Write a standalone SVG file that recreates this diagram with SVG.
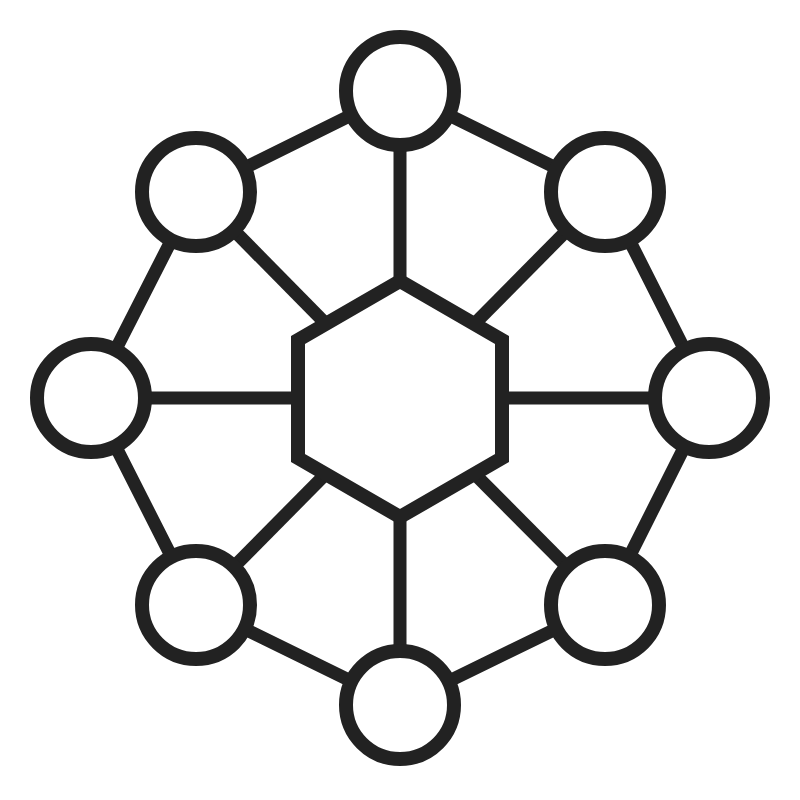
<svg xmlns="http://www.w3.org/2000/svg" width="800" height="800" viewBox="0 0 800 800">
<style>
.e{stroke:#222;stroke-width:13;fill:none;stroke-linecap:butt}
.n{stroke:#222;stroke-width:14;fill:#fff}
</style>
<rect width="800" height="800" fill="#fff"/>
<g id="connectors">
<path class="e" d="M400,91 L605,192 L709,398 L605,605 L400,705 L196,605 L91,398 L196,192 Z"/>
<line class="e" x1="400" y1="91" x2="400" y2="399"/>
<line class="e" x1="400" y1="705" x2="400" y2="399"/>
<line class="e" x1="91" y1="398" x2="400" y2="398"/>
<line class="e" x1="709" y1="398" x2="400" y2="398"/>
<line class="e" x1="196" y1="192" x2="400" y2="399"/>
<line class="e" x1="605" y1="192" x2="400" y2="399"/>
<line class="e" x1="196" y1="605" x2="400" y2="399"/>
<line class="e" x1="605" y1="605" x2="400" y2="399"/>
</g>
<g id="hub"><polygon class="n" points="400,281 502,340 502,458 400,517 298,458 298,340"/></g>
<g id="n1"><circle class="n" cx="400" cy="91" r="54"/></g>
<g id="n2"><circle class="n" cx="605" cy="192" r="54"/></g>
<g id="n3"><circle class="n" cx="709" cy="398" r="54"/></g>
<g id="n4"><circle class="n" cx="605" cy="605" r="54"/></g>
<g id="n5"><circle class="n" cx="400" cy="705" r="54"/></g>
<g id="n6"><circle class="n" cx="196" cy="605" r="54"/></g>
<g id="n7"><circle class="n" cx="91" cy="398" r="54"/></g>
<g id="n8"><circle class="n" cx="196" cy="192" r="54"/></g>
</svg>
